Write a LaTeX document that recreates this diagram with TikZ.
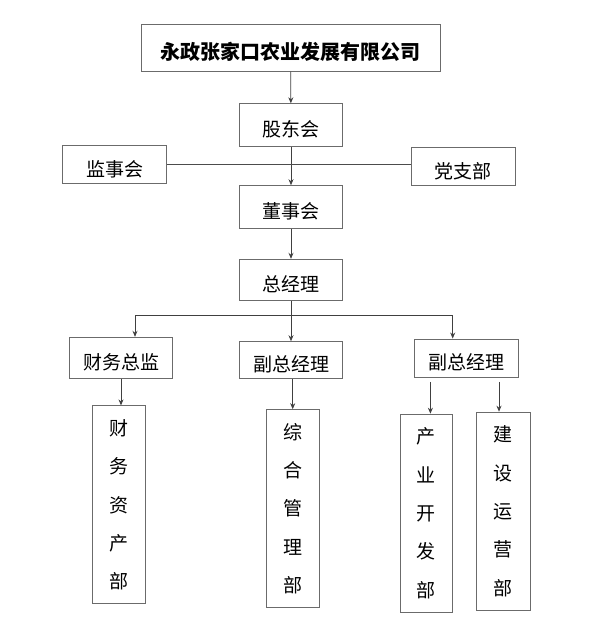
\documentclass[tikz,border=0pt]{standalone}
\usepackage{fontspec}
\newfontfamily\cjk{Noto Sans CJK SC}
\usetikzlibrary{arrows.meta}
\begin{document}
\begin{tikzpicture}[x=1pt, y=-1pt, font=\cjk\fontsize{19}{23}\selectfont,
  box/.style={draw=black!58, line width=1pt, inner sep=0pt, minimum width=103.5pt, text height=23pt, text depth=0pt},
  col/.style={draw=black!58, line width=1pt, inner sep=0pt, minimum width=53pt, minimum height=198pt, align=center, font=\cjk\fontsize{19}{38.3}\selectfont},
  arr/.style={-{Stealth[length=6pt,width=5pt]}, line width=0.8pt, black!75},
  lnk/.style={line width=0.8pt, black!70}]
\useasboundingbox (0,0) rectangle (599,627);
% top levels
\node[box, minimum width=299pt, minimum height=47pt, font=\cjk\bfseries\fontsize{20}{24}\selectfont] (com) at (290.5,47.5) {永政张家口农业发展有限公司};
\node[box, minimum height=43pt] (gdh) at (291,125.3) {股东会};
\node[box, minimum height=38pt] (jsh) at (114.7,164.5) {监事会};
\node[box, minimum height=38pt] (dzb) at (463.3,166.7) {党支部};
\node[box, minimum height=42.6pt] (dsh) at (291,207) {董事会};
\node[box, minimum height=41pt] (zjl) at (291,279.8) {总经理};
% second row
\node[box, minimum height=41pt] (cwzj) at (121,357.8) {财务总监};
\node[box, minimum height=37pt] (fzA) at (291,360.2) {副总经理};
\node[box, minimum height=38.3pt] (fzB) at (466.7,358.2) {副总经理};
% departments
\node[col] (cwzc) at (119.2,504.9) {财\\务\\资\\产\\部};
\node[col] (zhgl) at (292.7,508.7) {综\\合\\管\\理\\部};
\node[col, minimum width=51.3pt] (cykf) at (426.4,513.2) {产\\业\\开\\发\\部};
\node[col, minimum width=54pt] (jsyy) at (503,511.2) {建\\设\\运\\营\\部};
% connectors
\draw[arr] (com) -- (gdh);
\draw[arr] (gdh) -- (dsh);
\draw[lnk] (jsh.east) -- (jsh.east -| dzb.west);
\draw[arr] (dsh) -- (zjl);
\coordinate (fork) at (291,315);
\draw[arr] (zjl) -- (fzA);
\draw[arr] (fork) -| ([xshift=14pt]cwzj.north);
\draw[arr] (fork) -| ([xshift=-14pt]fzB.north);
\draw[arr] (cwzj.south) -- (cwzj.south |- cwzc.north);
\draw[arr] (fzA.south -| zhgl.north) -- (zhgl.north);
\draw[arr, shorten <=4pt] ([xshift=4pt]cykf.north |- fzB.south) -- ([xshift=4pt]cykf.north);
\draw[arr, shorten <=4pt] ([xshift=-4pt]jsyy.north |- fzB.south) -- ([xshift=-4pt]jsyy.north);
\end{tikzpicture}
\end{document}
